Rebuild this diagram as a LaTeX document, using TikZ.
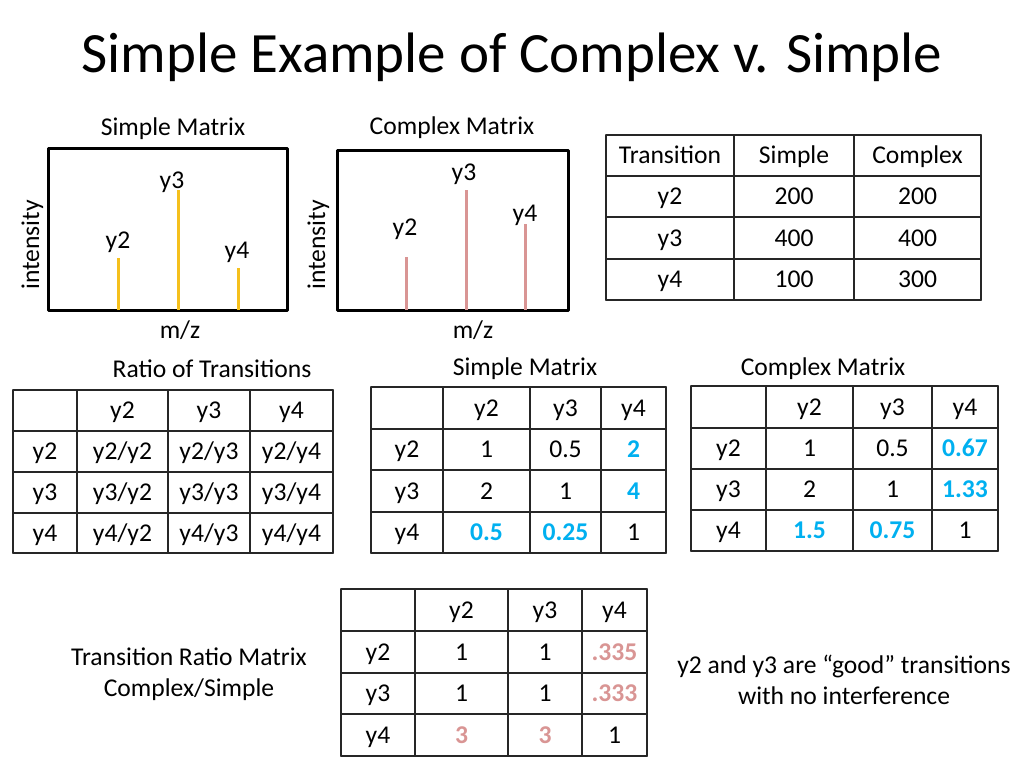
\documentclass[tikz,border=0pt]{standalone}
\usepackage{fontspec}
\setmainfont{Carlito}
\usepackage{xcolor}

\definecolor{peakgold}{RGB}{245,192,28}
\definecolor{peakpink}{RGB}{217,149,148}
\definecolor{valblue}{RGB}{0,176,240}
\newcommand{\hiblue}[1]{\textbf{\color{valblue}#1}}
\newcommand{\hipink}[1]{\textbf{\color{peakpink}#1}}

\begin{document}
\begin{tikzpicture}[x=1pt,y=-1pt,line cap=round,line join=round,
  txt/.style={font=\fontsize{25.6}{30.7}\selectfont,inner sep=0pt,text height=16.2pt,text depth=0pt},
  tabline/.style={line width=1.5pt,color=black!85},
  frame/.style={line width=3pt,color=black},
  goldbar/.style={line width=3pt,line cap=butt,color=peakgold},
  pinkbar/.style={line width=3pt,line cap=butt,color=peakpink}]
\useasboundingbox[fill=white] (0,0) rectangle (1024,768);
% title
\node[font=\fontsize{57}{68}\selectfont,inner sep=0pt,anchor=base] (title) at (512,72) {Simple Example of Complex v. Simple};
% spectrum, simple matrix
\node[txt] (sp-head) at (173,127) {Simple Matrix};
\draw[frame] (48,148) rectangle (287,310);
\foreach \bx/\btop/\lab/\lx/\ly in {118/258/y2/118/240,178/190/y3/172/180,238/268/y4/237/250}
{
\draw[goldbar] (\bx,310) -- (\bx,\btop);
\node[txt] (sp-\lab) at (\lx,\ly) {\lab};
}
\node[txt,rotate=90] (sp-int) at (31,245) {intensity};
\node[txt] (sp-mz) at (180,330) {m/z};
% spectrum, complex matrix
\node[txt] (cp-head) at (452,126) {Complex Matrix};
\draw[frame] (337,150) rectangle (568,310);
\foreach \bx/\btop/\lab/\lx/\ly in {406/257/y2/405/227,466/190/y3/464/172,525/224/y4/525/213}
{
\draw[pinkbar] (\bx,310) -- (\bx,\btop);
\node[txt] (cp-\lab) at (\lx,\ly) {\lab};
}
\node[txt,rotate=90] (cp-int) at (317,245) {intensity};
\node[txt] (cp-mz) at (473,330) {m/z};
% transition intensities
\foreach \gx in {606,734,854,981} \draw[tabline] (\gx,135) -- (\gx,300);
\foreach \gy in {135,176,217,259,300} \draw[tabline] (606,\gy) -- (981,\gy);
\foreach \cy/\a/\b/\c [count=\i] in {155.5/Transition/Simple/Complex,196.5/y2/200/200,238/y3/400/400,279.5/y4/100/300}
{
\node[txt] (in-\i-1) at (670,\cy) {\a};
\node[txt] (in-\i-2) at (794,\cy) {\b};
\node[txt] (in-\i-3) at (917.5,\cy) {\c};
}
% ratio of transitions
\node[txt] (rt-head) at (212,369) {Ratio of Transitions};
\foreach \gx in {13,77,168,250,333} \draw[tabline] (\gx,390) -- (\gx,553);
\foreach \gy in {390,431,472,513,553} \draw[tabline] (13,\gy) -- (333,\gy);
\foreach \cy/\a/\b/\c/\d [count=\i] in {410.5//y2/y3/y4,451.5/y2/{y2/y2}/{y2/y3}/{y2/y4},492.5/y3/{y3/y2}/{y3/y3}/{y3/y4},533/y4/{y4/y2}/{y4/y3}/{y4/y4}}
{
\node[txt] (rt-\i-1) at (45,\cy) {\a};
\node[txt] (rt-\i-2) at (122.5,\cy) {\b};
\node[txt] (rt-\i-3) at (209,\cy) {\c};
\node[txt] (rt-\i-4) at (291.5,\cy) {\d};
}
% simple matrix ratios
\node[txt] (sm-head) at (525,367) {Simple Matrix};
\foreach \gx in {371,443,530,601,666} \draw[tabline] (\gx,387) -- (\gx,553);
\foreach \gy in {387,429,470,512,553} \draw[tabline] (371,\gy) -- (666,\gy);
\foreach \cy/\a/\b/\c/\d [count=\i] in {408//y2/y3/y4,449.5/y2/1/0.5/\hiblue{2},491/y3/2/1/\hiblue{4},532.5/y4/\hiblue{0.5}/\hiblue{0.25}/1}
{
\node[txt] (sm-\i-1) at (407,\cy) {\a};
\node[txt] (sm-\i-2) at (486.5,\cy) {\b};
\node[txt] (sm-\i-3) at (565.5,\cy) {\c};
\node[txt] (sm-\i-4) at (633.5,\cy) {\d};
}
% complex matrix ratios
\node[txt] (cm-head) at (823,367) {Complex Matrix};
\foreach \gx in {691,766,853,932,998} \draw[tabline] (\gx,386) -- (\gx,551);
\foreach \gy in {386,428,469,510,551} \draw[tabline] (691,\gy) -- (998,\gy);
\foreach \cy/\a/\b/\c/\d [count=\i] in {407//y2/y3/y4,448.5/y2/1/0.5/\hiblue{0.67},489.5/y3/2/1/\hiblue{1.33},530.5/y4/\hiblue{1.5}/\hiblue{0.75}/1}
{
\node[txt] (cm-\i-1) at (728.5,\cy) {\a};
\node[txt] (cm-\i-2) at (809.5,\cy) {\b};
\node[txt] (cm-\i-3) at (892.5,\cy) {\c};
\node[txt] (cm-\i-4) at (965,\cy) {\d};
}
% complex/simple
\foreach \gx in {341,415,508,582,647} \draw[tabline] (\gx,589) -- (\gx,756);
\foreach \gy in {589,631,673,714,756} \draw[tabline] (341,\gy) -- (647,\gy);
\foreach \cy/\a/\b/\c/\d [count=\i] in {610//y2/y3/y4,652/y2/1/1/\hipink{.335},693.5/y3/1/1/\hipink{.333},735/y4/\hipink{3}/\hipink{3}/1}
{
\node[txt] (cs-\i-1) at (378,\cy) {\a};
\node[txt] (cs-\i-2) at (461.5,\cy) {\b};
\node[txt] (cs-\i-3) at (545,\cy) {\c};
\node[txt] (cs-\i-4) at (614.5,\cy) {\d};
}
\node[txt,anchor=base] (cs-lab1) at (189,665) {Transition Ratio Matrix};
\node[txt,anchor=base] (cs-lab2) at (189,696) {Complex/Simple};
\node[txt,anchor=base] (note1) at (844,673) {y2 and y3 are “good” transitions};
\node[txt,anchor=base] (note2) at (844,704) {with no interference};
\end{tikzpicture}
\end{document}
